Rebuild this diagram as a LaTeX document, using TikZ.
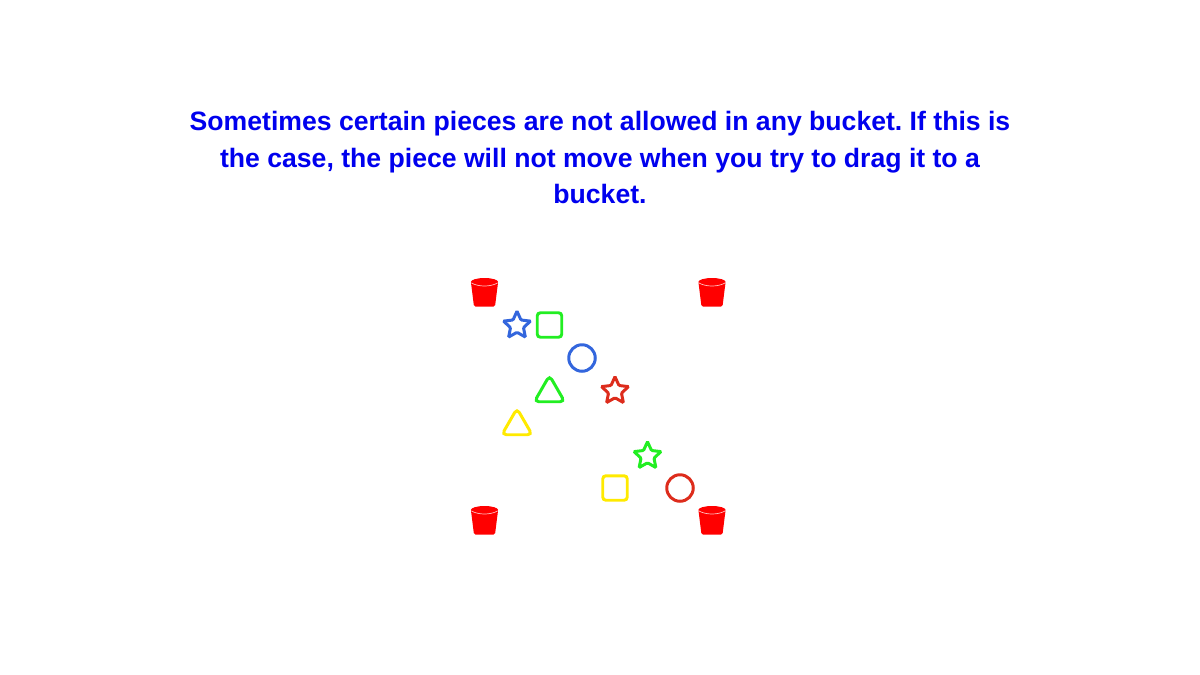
\documentclass[tikz,border=0pt]{standalone}
\usepackage{fontspec}
\setmainfont{Liberation Sans}
\usetikzlibrary{shapes.geometric, positioning}
\definecolor{pieceblue}{HTML}{3366DD}
\definecolor{piecegreen}{HTML}{22EE22}
\definecolor{piecered}{HTML}{DD2C1C}
\definecolor{pieceyellow}{HTML}{FFEA00}
\definecolor{textblue}{HTML}{0000EE}
\tikzset{
  starpiece/.style={star, star points=5, star point ratio=2.1, draw=#1, line width=0.85pt, minimum size=0.285cm, inner sep=0pt, rounded corners=0.3pt},
  squarepiece/.style={rectangle, draw=#1, line width=0.85pt, minimum size=0.245cm, inner sep=0pt, rounded corners=0.9pt},
  circlepiece/.style={circle, draw=#1, line width=0.85pt, minimum size=0.265cm, inner sep=0pt},
  trianglepiece/.style={regular polygon, regular polygon sides=3, draw=#1, line width=0.85pt, minimum size=0.35cm, inner sep=0pt, rounded corners=1.3pt},
  bucket/.pic={
    \fill [red, rounded corners=0.4pt] (-0.136,0.1) -- (0.136,0.1) -- (0.105,-0.145) -- (-0.105,-0.145) -- cycle;
    \fill [red] (0,0.1) ellipse (0.136 and 0.04);
    \draw [red!25, line width=0.2pt] (-0.13,0.09) .. controls (-0.06,0.05) and (0.06,0.05) .. (0.13,0.09);
  }
}
\begin{document}
\begin{tikzpicture}
  \useasboundingbox (0,0) rectangle (12,-6.75);
  \node [text=textblue, align=center, font=\bfseries\fontsize{7.57pt}{10.45pt}\selectfont] (message) at (6,-1.575)
    {\frenchspacing Sometimes certain pieces are not allowed in any bucket. If this is\\the case, the piece will not move when you try to drag it to a\\bucket.};
  \pic (bucketa) at (4.845,-2.92) {bucket};
  \pic (bucketb) at (7.12,-2.92) {bucket};
  \pic (bucketc) at (4.845,-5.2) {bucket};
  \pic (bucketd) at (7.12,-5.2) {bucket};
  \node [starpiece=pieceblue] (starblue) at (5.17,-3.255) {};
  \node [squarepiece=piecegreen] (squaregreen) at (5.495,-3.25) {};
  \node [circlepiece=pieceblue] (circleblue) at (5.82,-3.58) {};
  \node [trianglepiece=piecegreen] (trianglegreen) at (5.495,-3.93) {};
  \node [starpiece=piecered] (starred) at (6.15,-3.91) {};
  \node [trianglepiece=pieceyellow] (triangleyellow) at (5.17,-4.26) {};
  \node [starpiece=piecegreen] (stargreen) at (6.475,-4.56) {};
  \node [squarepiece=pieceyellow] (squareyellow) at (6.15,-4.88) {};
  \node [circlepiece=piecered] (circlered) at (6.8,-4.88) {};
\end{tikzpicture}
\end{document}
